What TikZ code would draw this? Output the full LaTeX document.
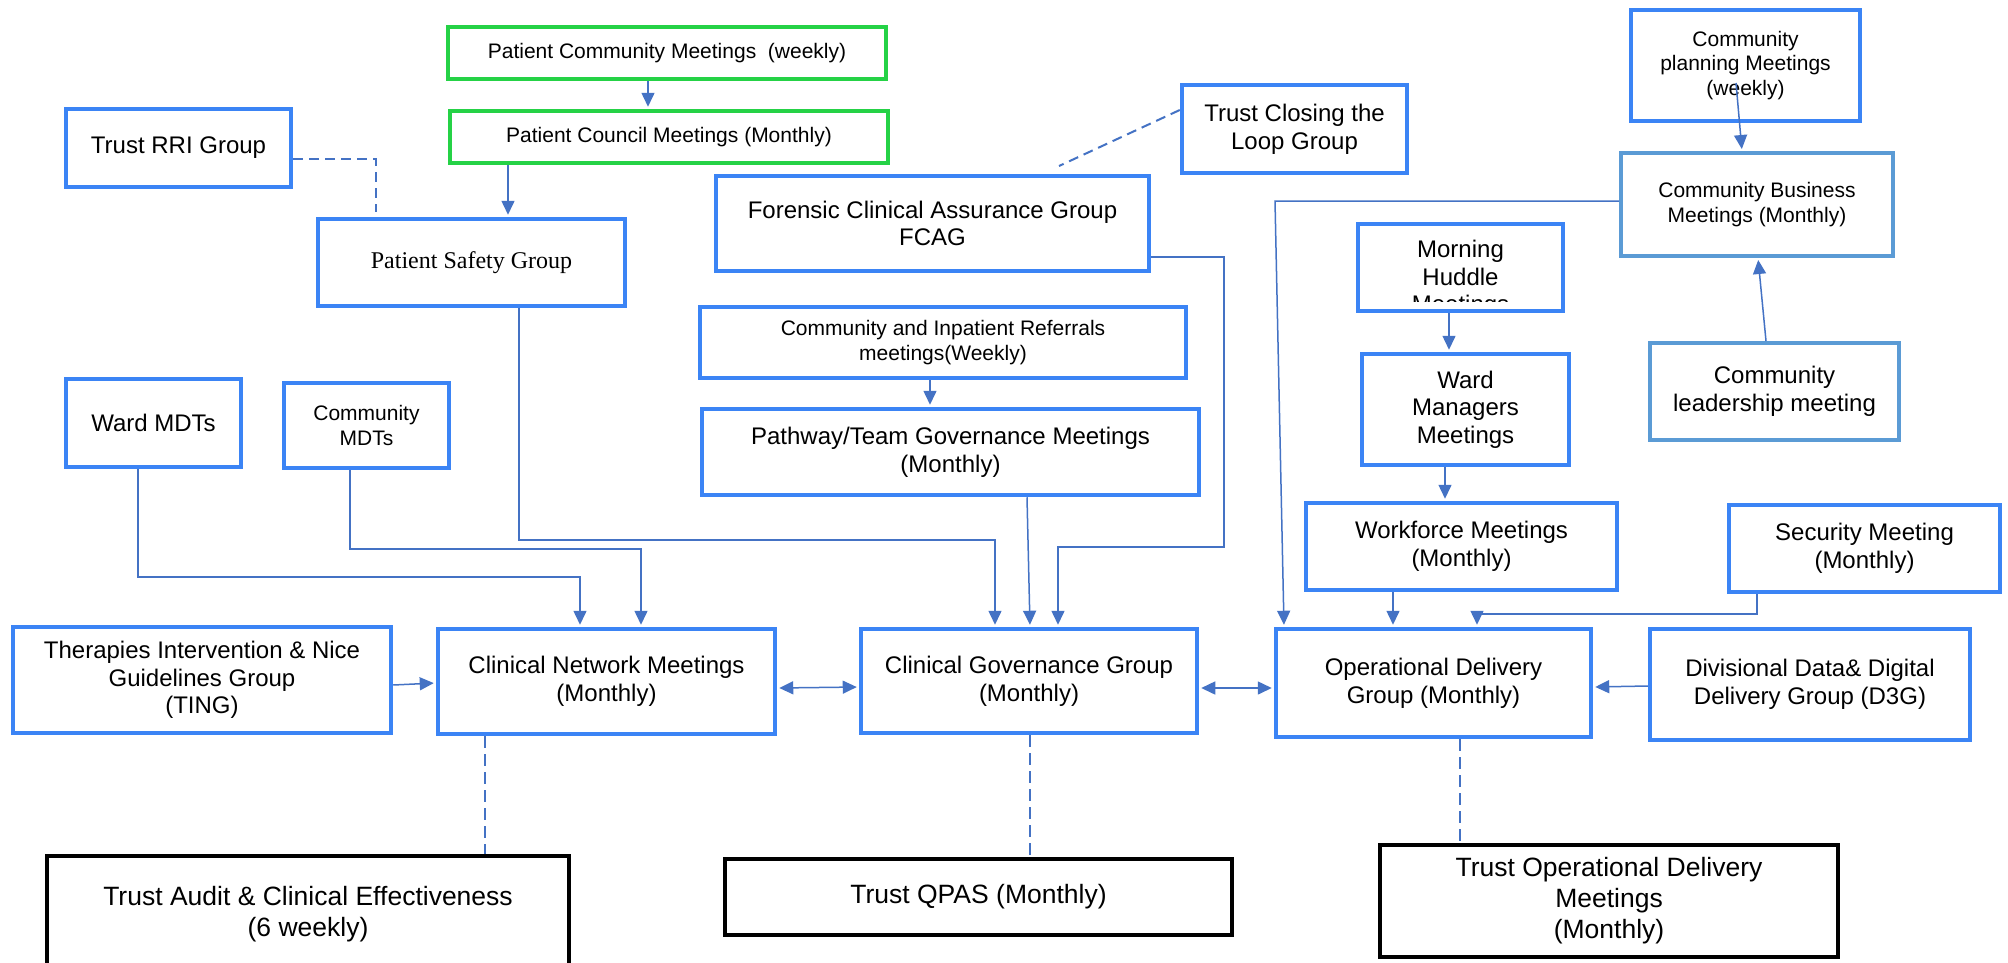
\documentclass[tikz,border=0pt]{standalone}
\usepackage{fontspec}
\setmainfont{Liberation Sans}
\newfontfamily\psgserif{Liberation Serif}
\usetikzlibrary{arrows.meta}
\definecolor{boxblue}{RGB}{59,132,245}
\definecolor{softblue}{RGB}{91,155,213}
\definecolor{boxgreen}{RGB}{37,210,70}
\definecolor{linkblue}{RGB}{68,114,196}
\newcommand\fmain{\fontsize{24pt}{27.6pt}\selectfont}
\newcommand\fsmall{\fontsize{21pt}{24.5pt}\selectfont}
\newcommand\fbig{\fontsize{26.5pt}{31pt}\selectfont}

\begin{document}
\begin{tikzpicture}[x=1pt,y=-1pt,
  wh/.style 2 args={minimum width=#1pt, minimum height=#2pt},
  box/.style={draw, inner sep=2pt, align=center, font=\fmain},
  bluebox/.style={box, draw=boxblue, line width=4.5pt},
  softbox/.style={box, draw=softblue, line width=4pt},
  greenbox/.style={box, draw=boxgreen, line width=4.5pt, font=\fsmall},
  trustbox/.style={box, draw=black, line width=4pt, font=\fbig},
  link/.style={draw=linkblue, line width=1.5pt},
  arr/.style={link, -{Triangle[length=14pt,width=13pt]}, shorten >=2pt},
  dbl/.style={link, {Triangle[length=14pt,width=13pt]}-{Triangle[length=14pt,width=13pt]}, shorten >=2pt, shorten <=2pt},
  dsh/.style={link, line width=2pt, dash pattern=on 10pt off 6pt},
  vdsh/.style={link, dash pattern=on 12pt off 6pt},
]
\useasboundingbox[fill=white] (0,0) rectangle (2008,962);

% patient forums
\node[greenbox, wh={438}{52}] (pcm) at (667,53) {Patient Community Meetings\ \ (weekly)};
\node[greenbox, wh={438}{52}] (pcl) at (669,137) {Patient Council Meetings (Monthly)};

% left column groups
\node[bluebox, wh={225}{78}] (rri) at (178.5,148) {Trust RRI Group};
\node[bluebox, wh={307}{87}, font=\psgserif\fmain] (psg) at (471.5,262.5) {Patient Safety Group};
\node[bluebox, wh={175}{88}] (wmdt) at (153.5,423) {Ward MDTs};
\node[bluebox, wh={165}{85}, font=\fsmall] (cmdt) at (366.5,425.5) {Community\\MDTs};
\node[bluebox, wh={378}{106}] (ting) at (202,680) {Therapies Intervention \& Nice\\Guidelines Group\\(TING)};

% centre column groups
\node[bluebox, wh={225}{88}] (tcl) at (1294.5,129) {Trust Closing the\\Loop Group};
\node[bluebox, wh={433}{95}] (fcag) at (932.5,223.5) {Forensic Clinical Assurance Group\\FCAG};
\node[bluebox, wh={486}{71}, font=\fsmall] (cir) at (943,342.5) {Community and Inpatient Referrals\\meetings(Weekly)};
\node[bluebox, wh={497}{86}] (ptg) at (950.5,452) {Pathway/Team Governance Meetings\\(Monthly)};

% right column groups
\node[bluebox, wh={229}{111}, font=\fsmall] (cpm) at (1745.5,65.5) {Community\\planning Meetings\\(weekly)};
\node[softbox, wh={272}{103}, font=\fsmall] (cbm) at (1757,204.5) {Community Business\\Meetings (Monthly)};
\node[softbox, wh={249}{97}] (clm) at (1774.5,391.5) {Community\\leadership meeting};
\node[bluebox, wh={205}{87}] (mhm) at (1460.5,267.5) {};
\begin{scope}
  \clip (1360,226) rectangle (1561,301);
  \node[inner sep=0pt, align=center, font=\fmain] (mhtext) at (1460.5,279) {Morning\\Huddle\\Meetings};
\end{scope}
\node[bluebox, wh={207}{111}] (wmm) at (1465.5,409.5) {Ward\\Managers\\Meetings};
\node[bluebox, wh={311}{87}] (wfm) at (1461.5,546.5) {Workforce Meetings\\(Monthly)};
\node[bluebox, wh={271}{87}] (sec) at (1864.5,548.5) {Security Meeting\\(Monthly)};

% main governance row
\node[bluebox, wh={337}{105}] (cnm) at (606.5,681.5) {Clinical Network Meetings\\(Monthly)};
\node[bluebox, wh={336}{104}] (cgg) at (1029,681) {Clinical Governance Group\\(Monthly)};
\node[bluebox, wh={315}{108}] (odg) at (1433.5,683) {Operational Delivery\\Group (Monthly)};
\node[bluebox, wh={320}{111}] (d3g) at (1810,684.5) {Divisional Data\& Digital\\Delivery Group (D3G)};

% trust-level meetings
\node[trustbox, wh={522}{117}] (tace) at (308,914.5) {Trust Audit \& Clinical Effectiveness\\(6 weekly)};
\node[trustbox, wh={507}{76}] (qpas) at (978.5,897) {Trust QPAS (Monthly)};
\node[trustbox, wh={458}{112}] (tod) at (1609,901) {Trust Operational Delivery\\Meetings\\(Monthly)};

% connectors
\draw[arr] (pcm.south -| 648,0) -- (pcl.north -| 648,0);
\draw[arr] (pcl.south -| 508,0) -- (psg.north -| 508,0);
\draw[dsh, shorten >=5pt] (rri.east |- 0,159) -| (psg.north -| 376,0);
\coordinate (tclend) at (1059,166);
\draw[dsh] (tcl.west |- 0,110) -- (tclend);

\draw[arr] (psg.south -| 519,0) |- (995,540) -- (cgg.north -| 995,0);
\draw[arr] (cir.south -| 930,0) -- (ptg.north -| 930,0);
\draw[arr] (ptg.south -| 1027,0) -- (cgg.north -| 1030,0);
\draw[arr] (fcag.east |- 0,257) -- (1224,257) -- (1224,547) -| (cgg.north -| 1058,0);

\draw[arr] (wmdt.south -| 138,0) |- (580,577) -- (cnm.north -| 580,0);
\draw[arr] (cmdt.south -| 350,0) |- (641,549) -- (cnm.north -| 641,0);
\draw[arr] (ting.east |- 0,685) -- (cnm.west |- 0,683);

\draw[dbl] (cnm.east |- 0,688) -- (cgg.west |- 0,687);
\draw[dbl] (cgg.east |- 0,688) -- (odg.west |- 0,688);
\draw[arr] (d3g.west |- 0,686) -- (odg.east |- 0,687);

\draw[arr] (sec.south -| 1757,0) |- (1477,614) -- (odg.north -| 1477,0);
\draw[arr] (wfm.south -| 1393,0) -- (odg.north -| 1393,0);
\draw[arr] (wmm.south -| 1445,0) -- (wfm.north -| 1445,0);
\draw[arr] (mhm.south -| 1449,0) -- (wmm.north -| 1449,0);
\draw[arr] (cbm.west |- 0,201) -- (1275,201) -- (odg.north -| 1284,0);

\coordinate (cpmtail) at (1736,83);
\draw[arr] (cpmtail) -- (cbm.north -| 1742,0);
\draw[arr] (clm.north -| 1766,0) -- (cbm.south -| 1758,0);

\draw[vdsh] (cnm.south -| 485,0) -- (tace.north -| 485,0);
\draw[vdsh] (cgg.south -| 1030,0) -- (qpas.north -| 1030,0);
\draw[vdsh] (odg.south -| 1460,0) -- (tod.north -| 1460,0);
\end{tikzpicture}
\end{document}
